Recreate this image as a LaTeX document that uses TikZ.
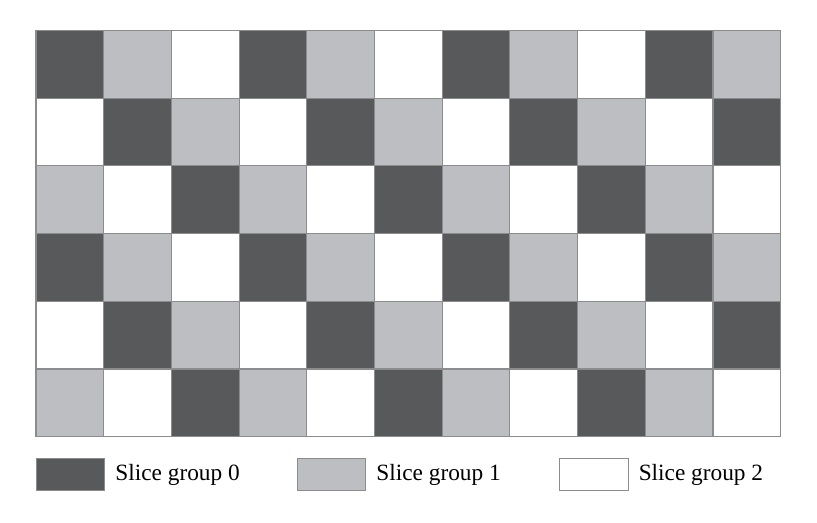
\documentclass[tikz,border=0pt]{standalone}
\usepackage{fontspec}
\setmainfont{Liberation Serif}
\usetikzlibrary{positioning}
\definecolor{sgdark}{RGB}{88,89,91}
\definecolor{sglight}{RGB}{189,190,194}
\definecolor{sgline}{RGB}{140,140,142}
\tikzset{
  sgcell/.style={draw=sgline, line width=0.45pt},
  sgkey/.style={draw=sgline, line width=0.45pt, minimum width=1.01cm, minimum height=0.47cm, inner sep=0pt, anchor=north west},
  sgtext/.style={font=\fontsize{9.8}{12}\selectfont, inner sep=0pt, anchor=west}
}

\begin{document}
\begin{tikzpicture}
    \useasboundingbox (-0.532,0.450) rectangle (11.536,-7.275);
    \foreach \r in {0,...,5} {
      \foreach \c in {0,...,10} {
        \pgfmathtruncatemacro{\g}{mod(\c-\r+6,3)}
        \ifcase\g
          \def\sgfill{sgdark}
        \or
          \def\sgfill{sglight}
        \else
          \def\sgfill{white}
        \fi
        \filldraw[sgcell, fill=\sgfill] (\c,-\r) rectangle (\c+1,-\r-1);
      }
    }
    \node[sgkey, fill=sgdark] (key0) at (0,-6.319) {};
    \node[sgtext, right=0.14cm of key0] (txt0) {Slice group 0};
    \node[sgkey, fill=sglight] (key1) at (3.855,-6.319) {};
    \node[sgtext, right=0.14cm of key1] (txt1) {Slice group 1};
    \node[sgkey, fill=white] (key2) at (7.73,-6.319) {};
    \node[sgtext, right=0.14cm of key2] (txt2) {Slice group 2};
\end{tikzpicture}
\end{document}
